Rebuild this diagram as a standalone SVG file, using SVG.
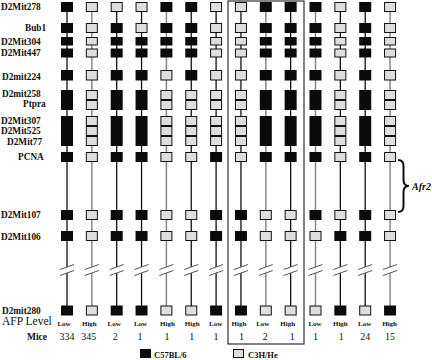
<svg xmlns="http://www.w3.org/2000/svg" xmlns:xlink="http://www.w3.org/1999/xlink" width="432" height="360" viewBox="0 0 432 360">
<style>
text{font-family:"Liberation Serif","Times New Roman",serif;fill:#111}
.lab{font-size:9.3px;font-weight:bold}
.afp{font-size:7px;font-weight:bold;text-anchor:middle}
.num{font-size:10px;text-anchor:middle}
.k{fill:#0a0a0a}
.g{fill:#dedede;stroke:#111;stroke-width:1}
.ln{stroke:#111;stroke-width:1.3}
.lg{stroke:#888;stroke-width:1.5}
.sl{stroke:#555;stroke-width:1}
</style>
<defs>
<rect id="k0" class="k" x="-6" y="2" width="12" height="10"/>
<rect id="k1" class="k" x="-6" y="23" width="12" height="10"/>
<rect id="k2" class="k" x="-6" y="37" width="12" height="8.5"/>
<rect id="k3" class="k" x="-6" y="48.5" width="12" height="9"/>
<rect id="k4" class="k" x="-6" y="70" width="12" height="10.5"/>
<rect id="k5" class="k" x="-6" y="90" width="12" height="10"/>
<rect id="k6" class="k" x="-6" y="100" width="12" height="10"/>
<rect id="k7" class="k" x="-6" y="116" width="12" height="10"/>
<rect id="k8" class="k" x="-6" y="126" width="12" height="10"/>
<rect id="k9" class="k" x="-6" y="136" width="12" height="10"/>
<rect id="k10" class="k" x="-6" y="152" width="12" height="10"/>
<rect id="k11" class="k" x="-6" y="210" width="12" height="10"/>
<rect id="k12" class="k" x="-6" y="231" width="12" height="10"/>
<rect id="k13" class="k" x="-6" y="305.5" width="12" height="10"/>
<rect id="g0" class="g" x="-5.5" y="2.5" width="11" height="9"/>
<rect id="g1" class="g" x="-5.5" y="23.5" width="11" height="9"/>
<rect id="g2" class="g" x="-5.5" y="37.5" width="11" height="7.5"/>
<rect id="g3" class="g" x="-5.5" y="49" width="11" height="8"/>
<rect id="g4" class="g" x="-5.5" y="70.5" width="11" height="9.5"/>
<rect id="g5" class="g" x="-5.5" y="90.5" width="11" height="9"/>
<rect id="g6" class="g" x="-5.5" y="100.5" width="11" height="9"/>
<rect id="g7" class="g" x="-5.5" y="116.5" width="11" height="9"/>
<rect id="g8" class="g" x="-5.5" y="126.5" width="11" height="9"/>
<rect id="g9" class="g" x="-5.5" y="136.5" width="11" height="9"/>
<rect id="g10" class="g" x="-5.5" y="152.5" width="11" height="9"/>
<rect id="g11" class="g" x="-5.5" y="210.5" width="11" height="9"/>
<rect id="g12" class="g" x="-5.5" y="231.5" width="11" height="9"/>
<rect id="g13" class="g" x="-5.5" y="306" width="11" height="9"/>
<g id="brk">
<polygon points="-7,269.5 7,264.5 7,270.5 -7,275.5" fill="#fff"/>
<line class="sl" x1="-7" y1="269.5" x2="7" y2="264.5"/>
<line class="sl" x1="-7" y1="275.5" x2="7" y2="270.5"/>
</g>
</defs>

<rect id="recombinant-box" x="228" y="1" width="76" height="343" fill="none" stroke="#333" stroke-width="1.2"/>

<g id="labels">
<text class="lab" x="1" y="10">D2Mit278</text>
<text class="lab" x="25" y="31">Bub1</text>
<text class="lab" x="1" y="44.5">D2Mit304</text>
<text class="lab" x="1" y="56">D2Mit447</text>
<text class="lab" x="2" y="79.5">D2mit224</text>
<text class="lab" x="2" y="97">D2mit258</text>
<text class="lab" x="23" y="106.5">Ptpra</text>
<text class="lab" x="1" y="124">D2Mit307</text>
<text class="lab" x="1" y="134">D2Mit525</text>
<text class="lab" x="7" y="145">D2Mit77</text>
<text class="lab" x="18" y="160">PCNA</text>
<text class="lab" x="1" y="217.5">D2Mit107</text>
<text class="lab" x="1" y="240">D2Mit106</text>
<text class="lab" x="2" y="314">D2mit280</text>
<text x="2" y="325" style="font-size:11.5px">AFP Level</text>
<text x="27" y="339.5" style="font-size:9.5px;font-weight:bold">Mice</text>
</g>

<g id="connectors">
<g transform="translate(67,0)"><line class="ln" x1="0" y1="7" x2="0" y2="311"/><use href="#brk"/></g>
<g transform="translate(91.85,0)"><line class="lg" x1="0" y1="7" x2="0" y2="311"/><use href="#brk"/></g>
<g transform="translate(116.7,0)"><line class="ln" x1="0" y1="7" x2="0" y2="311"/><use href="#brk"/></g>
<g transform="translate(141.55,0)"><line class="ln" x1="0" y1="7" x2="0" y2="311"/><use href="#brk"/></g>
<g transform="translate(166.4,0)"><line class="lg" x1="0" y1="7" x2="0" y2="311"/><use href="#brk"/></g>
<g transform="translate(191.25,0)"><line class="ln" x1="0" y1="7" x2="0" y2="311"/><use href="#brk"/></g>
<g transform="translate(216.1,0)"><line class="ln" x1="0" y1="7" x2="0" y2="311"/><use href="#brk"/></g>
<g transform="translate(240.95,0)"><line class="ln" x1="0" y1="7" x2="0" y2="311"/><use href="#brk"/></g>
<g transform="translate(265.8,0)"><line class="lg" x1="0" y1="7" x2="0" y2="311"/><use href="#brk"/></g>
<g transform="translate(290.65,0)"><line class="ln" x1="0" y1="7" x2="0" y2="311"/><use href="#brk"/></g>
<g transform="translate(315.5,0)"><line class="lg" x1="0" y1="7" x2="0" y2="311"/><use href="#brk"/></g>
<g transform="translate(340.35,0)"><line class="ln" x1="0" y1="7" x2="0" y2="311"/><use href="#brk"/></g>
<g transform="translate(365.2,0)"><line class="ln" x1="0" y1="7" x2="0" y2="311"/><use href="#brk"/></g>
<g transform="translate(390.05,0)"><line class="lg" x1="0" y1="7" x2="0" y2="311"/><use href="#brk"/></g>
</g>

<g id="col1" transform="translate(67,0)"><use href="#k0"/><use href="#k1"/><use href="#k2"/><use href="#k3"/><use href="#k4"/><use href="#k5"/><use href="#k6"/><use href="#k7"/><use href="#k8"/><use href="#k9"/><use href="#k10"/><use href="#k11"/><use href="#k12"/><use href="#k13"/>
<text class="afp" x="-3" y="325.5">Low</text><text class="num" x="0" y="339.5">334</text></g>
<g id="col2" transform="translate(91.85,0)"><use href="#g0"/><use href="#g1"/><use href="#g2"/><use href="#g3"/><use href="#g4"/><use href="#g5"/><use href="#g6"/><use href="#g7"/><use href="#g8"/><use href="#g9"/><use href="#g10"/><use href="#g11"/><use href="#g12"/><use href="#g13"/>
<text class="afp" x="-2.5" y="325.5">High</text><text class="num" x="-3" y="339.5">345</text></g>
<g id="col3" transform="translate(116.7,0)"><use href="#g0"/><use href="#k1"/><use href="#k2"/><use href="#k3"/><use href="#k4"/><use href="#k5"/><use href="#k6"/><use href="#k7"/><use href="#k8"/><use href="#k9"/><use href="#k10"/><use href="#k11"/><use href="#k12"/><use href="#k13"/>
<text class="afp" x="-2.5" y="325.5">Low</text><text class="num" x="-1.5" y="339.5">2</text></g>
<g id="col4" transform="translate(141.55,0)"><use href="#g0"/><use href="#g1"/><use href="#k2"/><use href="#k3"/><use href="#k4"/><use href="#k5"/><use href="#k6"/><use href="#k7"/><use href="#k8"/><use href="#k9"/><use href="#k10"/><use href="#k11"/><use href="#k12"/><use href="#k13"/>
<text class="afp" x="-1" y="325.5">Low</text><text class="num" x="-1.5" y="339.5">1</text></g>
<g id="col5" transform="translate(166.4,0)"><use href="#k0"/><use href="#k1"/><use href="#k2"/><use href="#k3"/><use href="#g4"/><use href="#g5"/><use href="#g6"/><use href="#g7"/><use href="#g8"/><use href="#g9"/><use href="#g10"/><use href="#g11"/><use href="#g12"/><use href="#g13"/>
<text class="afp" x="1" y="325.5">High</text><text class="num" x="0.5" y="339.5">1</text></g>
<g id="col6" transform="translate(191.25,0)"><use href="#k0"/><use href="#k1"/><use href="#k2"/><use href="#k3"/><use href="#k4"/><use href="#g5"/><use href="#g6"/><use href="#g7"/><use href="#g8"/><use href="#g9"/><use href="#g10"/><use href="#g11"/><use href="#g12"/><use href="#g13"/>
<text class="afp" x="1" y="325.5">High</text><text class="num" x="0.5" y="339.5">1</text></g>
<g id="col7" transform="translate(216.1,0)"><use href="#g0"/><use href="#g1"/><use href="#g2"/><use href="#g3"/><use href="#g4"/><use href="#g5"/><use href="#g6"/><use href="#g7"/><use href="#g8"/><use href="#g9"/><use href="#k10"/><use href="#k11"/><use href="#k12"/><use href="#k13"/>
<text class="afp" x="-0.5" y="325.5">Low</text><text class="num" x="0" y="339.5">1</text></g>
<g id="col8" transform="translate(240.95,0)"><use href="#g0"/><use href="#g1"/><use href="#g2"/><use href="#g3"/><use href="#g4"/><use href="#g5"/><use href="#g6"/><use href="#g7"/><use href="#g8"/><use href="#g9"/><use href="#g10"/><use href="#k11"/><use href="#k12"/><use href="#k13"/>
<text class="afp" x="-2" y="325.5">High</text><text class="num" x="0.5" y="339.5">1</text></g>
<g id="col9" transform="translate(265.8,0)"><use href="#k0"/><use href="#k1"/><use href="#k2"/><use href="#k3"/><use href="#k4"/><use href="#k5"/><use href="#k6"/><use href="#k7"/><use href="#k8"/><use href="#k9"/><use href="#k10"/><use href="#g11"/><use href="#g12"/><use href="#g13"/>
<text class="afp" x="-3" y="325.5">Low</text><text class="num" x="-0.5" y="339.5">2</text></g>
<g id="col10" transform="translate(290.65,0)"><use href="#k0"/><use href="#k1"/><use href="#k2"/><use href="#k3"/><use href="#k4"/><use href="#k5"/><use href="#k6"/><use href="#k7"/><use href="#k8"/><use href="#k9"/><use href="#k10"/><use href="#g11"/><use href="#g12"/><use href="#g13"/>
<text class="afp" x="-3" y="325.5">High</text><text class="num" x="1.5" y="339.5">1</text></g>
<g id="col11" transform="translate(315.5,0)"><use href="#k0"/><use href="#k1"/><use href="#k2"/><use href="#k3"/><use href="#k4"/><use href="#k5"/><use href="#k6"/><use href="#k7"/><use href="#k8"/><use href="#k9"/><use href="#k10"/><use href="#k11"/><use href="#g12"/><use href="#g13"/>
<text class="afp" x="-0.5" y="325.5">Low</text><text class="num" x="0" y="339.5">1</text></g>
<g id="col12" transform="translate(340.35,0)"><use href="#g0"/><use href="#g1"/><use href="#g2"/><use href="#g3"/><use href="#g4"/><use href="#g5"/><use href="#g6"/><use href="#g7"/><use href="#g8"/><use href="#g9"/><use href="#g10"/><use href="#g11"/><use href="#k12"/><use href="#k13"/>
<text class="afp" x="0" y="325.5">High</text><text class="num" x="1" y="339.5">1</text></g>
<g id="col13" transform="translate(365.2,0)"><use href="#k0"/><use href="#k1"/><use href="#k2"/><use href="#k3"/><use href="#k4"/><use href="#k5"/><use href="#k6"/><use href="#k7"/><use href="#k8"/><use href="#k9"/><use href="#k10"/><use href="#k11"/><use href="#k12"/><use href="#g13"/>
<text class="afp" x="-0.5" y="325.5">Low</text><text class="num" x="0" y="339.5">24</text></g>
<g id="col14" transform="translate(390.05,0)"><use href="#g0"/><use href="#g1"/><use href="#g2"/><use href="#g3"/><use href="#g4"/><use href="#g5"/><use href="#g6"/><use href="#g7"/><use href="#g8"/><use href="#g9"/><use href="#g10"/><use href="#g11"/><use href="#g12"/><use href="#k13"/>
<text class="afp" x="-0.5" y="325.5">High</text><text class="num" x="0" y="339.5">15</text></g>

<g id="afr2">
<path d="M398,160 Q403.5,160 403.5,166 L403.5,180 Q403.5,186 409,186 Q403.5,186 403.5,192 L403.5,206 Q403.5,212 398,212" fill="none" stroke="#111" stroke-width="2"/>
<text x="412" y="190" style="font-size:10px;font-weight:bold;font-style:italic">Afr2</text>
</g>

<g id="legend">
<rect x="140" y="349" width="11" height="9" class="k"/>
<text x="154" y="358" style="font-size:8.5px;font-weight:bold">C57BL/6</text>
<rect x="233.5" y="349.5" width="10" height="8" class="g"/>
<text x="248" y="358" style="font-size:8.5px;font-weight:bold">C3H/He</text>
</g>
</svg>
